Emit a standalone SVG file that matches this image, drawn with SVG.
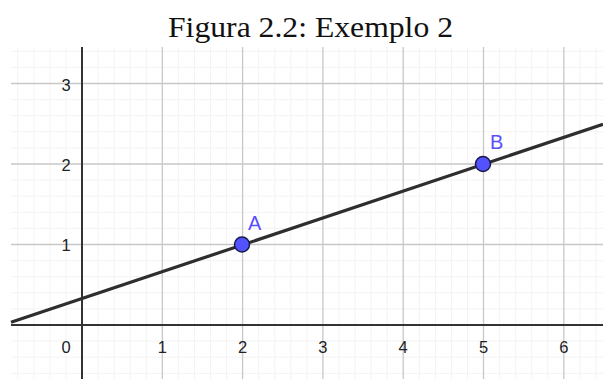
<svg xmlns="http://www.w3.org/2000/svg" width="603" height="379" viewBox="0 0 603 379">
<defs>
<clipPath id="plot"><rect x="11" y="47" width="592" height="332"/></clipPath>
</defs>
<style>
.title{font-family:"Liberation Serif","Times New Roman",serif;font-size:29px;fill:#111}
.minor{stroke:#f3f3f3;stroke-width:1}
.major{stroke:#c8c8c8;stroke-width:1.3}
.axis{stroke:#333;stroke-width:2}
.tick{font-family:"Liberation Sans",Arial,sans-serif;font-size:16.5px;fill:#222;text-anchor:middle}
.lbl{font-family:"Liberation Sans",Arial,sans-serif;font-size:20px;fill:#5a4fff}
.pt{fill:#5252ff;stroke:#1a1a4a;stroke-width:1.5}
</style>
<rect width="603" height="379" fill="#fff"/>
<text class="title" x="168" y="36.5" textLength="285" lengthAdjust="spacingAndGlyphs">Figura 2.2: Exemplo 2</text>
<g id="grid" clip-path="url(#plot)">
<g class="minor">
<path d="M17.8 47V379M33.9 47V379M49.9 47V379M66 47V379M98.1 47V379M114.2 47V379M130.2 47V379M146.3 47V379M178.4 47V379M194.5 47V379M210.5 47V379M226.6 47V379M258.7 47V379M274.8 47V379M290.8 47V379M306.9 47V379M339 47V379M355.1 47V379M371.1 47V379M387.2 47V379M419.3 47V379M435.4 47V379M451.4 47V379M467.5 47V379M499.6 47V379M515.7 47V379M531.7 47V379M547.8 47V379M579.9 47V379M596 47V379"/>
<path d="M11 51.3H603M11 67.4H603M11 99.6H603M11 115.7H603M11 131.8H603M11 147.9H603M11 180.1H603M11 196.2H603M11 212.3H603M11 228.4H603M11 260.6H603M11 276.7H603M11 292.8H603M11 308.9H603M11 341.1H603M11 357.2H603M11 373.3H603"/>
</g>
<g class="major">
<path d="M162.3 47V379M242.6 47V379M322.9 47V379M403.2 47V379M483.5 47V379M563.8 47V379"/>
<path d="M11 83.5H603M11 164H603M11 244.5H603"/>
</g>
</g>
<g id="axes">
<line class="axis" x1="82" y1="47" x2="82" y2="379"/>
<line class="axis" x1="11" y1="325" x2="603" y2="325"/>
<text class="tick" x="66" y="90.5">3</text>
<text class="tick" x="66" y="171">2</text>
<text class="tick" x="66" y="251">1</text>
<text class="tick" x="66" y="353">0</text>
<text class="tick" x="162.3" y="353">1</text>
<text class="tick" x="242.6" y="353">2</text>
<text class="tick" x="322.9" y="353">3</text>
<text class="tick" x="403.2" y="353">4</text>
<text class="tick" x="483.5" y="353">5</text>
<text class="tick" x="563.8" y="353">6</text>
</g>
<g id="connectors">
<line x1="11" y1="322.3" x2="603" y2="124.2" stroke="#2e2e2e" stroke-width="3.2"/>
</g>
<g id="A">
<circle class="pt" cx="242" cy="244.5" r="7.5"/>
<text class="lbl" x="248" y="230">A</text>
</g>
<g id="B">
<circle class="pt" cx="483" cy="164" r="7.5"/>
<text class="lbl" x="490" y="149">B</text>
</g>
</svg>
